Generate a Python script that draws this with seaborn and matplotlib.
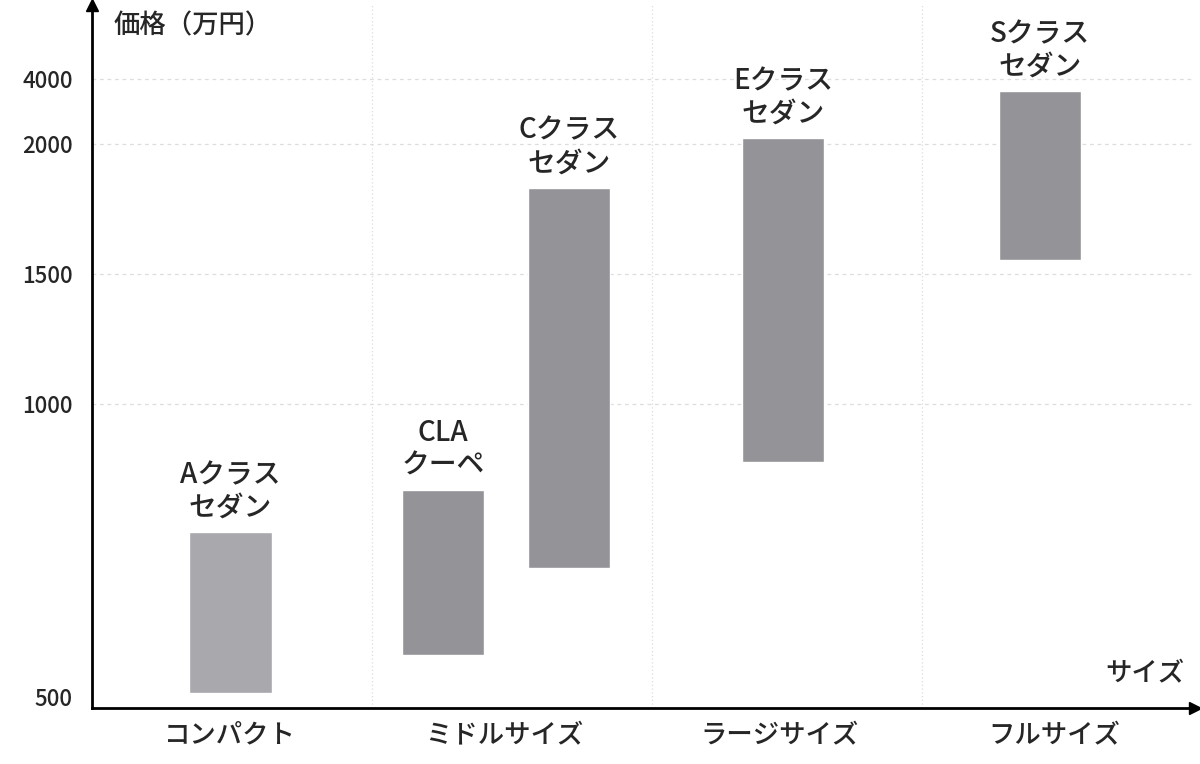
import numpy as np
import matplotlib
matplotlib.use('Agg')
import matplotlib.pyplot as plt
import seaborn as sns

sns.set_style('white')
plt.rcParams['font.family'] = ['Noto Sans CJK JP', 'DejaVu Sans']

# data
categories = ['コンパクト', 'ミドルサイズ', 'ラージサイズ', 'フルサイズ']
models = ['Aクラス\nセダン', 'CLA\nクーペ', 'Cクラス\nセダン', 'Eクラス\nセダン', 'Sクラス\nセダン']
model_pos = [0.504, 1.276, 1.734, 2.513, 3.447]
price_low = [507, 572, 721, 901, 1554]
price_high = [781, 854, 1833, 2190, 3625]
bar_colors = ['#a9a8ad', '#949398', '#949398', '#949398', '#949398']
tick_values = [500, 1000, 1500, 2000, 4000]
tick_scale = [0, 2.25, 3.25, 4.25, 4.75]   # non-uniform axis spacing in the original


def to_axis(v):
    return np.interp(v, tick_values, tick_scale)


fig = plt.figure(figsize=(12, 7.64), dpi=100)
ax = fig.add_axes([92 / 1200, 56 / 764, 1103 / 1200, 703 / 764])

lo = to_axis(np.array(price_low))
hi = to_axis(np.array(price_high))
ax.bar(model_pos, hi - lo, bottom=lo, width=0.3, color=bar_colors)
for x, top, name in zip(model_pos, hi, models):
    ax.text(x, top + 0.08, name, ha='center', va='bottom', fontsize=20,
            fontweight='medium', linespacing=1.15)

ax.set_xlim(0, 4.01)
ax.set_ylim(-0.085, 5.32)
ax.set_yticks(to_axis(np.array(tick_values)))
ax.set_yticklabels([str(t) for t in tick_values], fontsize=16, fontweight='medium')
ax.set_xticks([0.5, 1.5, 2.5, 3.5])
ax.set_xticklabels(categories, fontsize=19, fontweight='medium')
ax.tick_params(axis='y', length=0, pad=14)
ax.tick_params(axis='x', length=0, pad=10)

for t in tick_values[1:]:
    ax.axhline(to_axis(t), color='#dddddd', linestyle=(0, (3, 3)), lw=0.9, zorder=0)
for b in [1.018, 2.036, 3.018]:
    ax.axvline(b, color='#dddddd', linestyle=(0, (1, 2)), lw=0.9, zorder=0)

for s in ['top', 'right']:
    ax.spines[s].set_visible(False)
for s in ['left', 'bottom']:
    ax.spines[s].set_color('black')
    ax.spines[s].set_linewidth(2)
ax.plot(1, 0, '>k', transform=ax.transAxes, clip_on=False, ms=9)
ax.plot(0, 1, '^k', transform=ax.transAxes, clip_on=False, ms=9)

ax.text(0.02, 0.99, '価格（万円）', transform=ax.transAxes, fontsize=19,
        fontweight='medium', ha='left', va='top')
ax.text(0.99, 0.03, 'サイズ', transform=ax.transAxes, fontsize=19,
        fontweight='medium', ha='right', va='bottom')

fig.savefig('out.png', dpi=100)
